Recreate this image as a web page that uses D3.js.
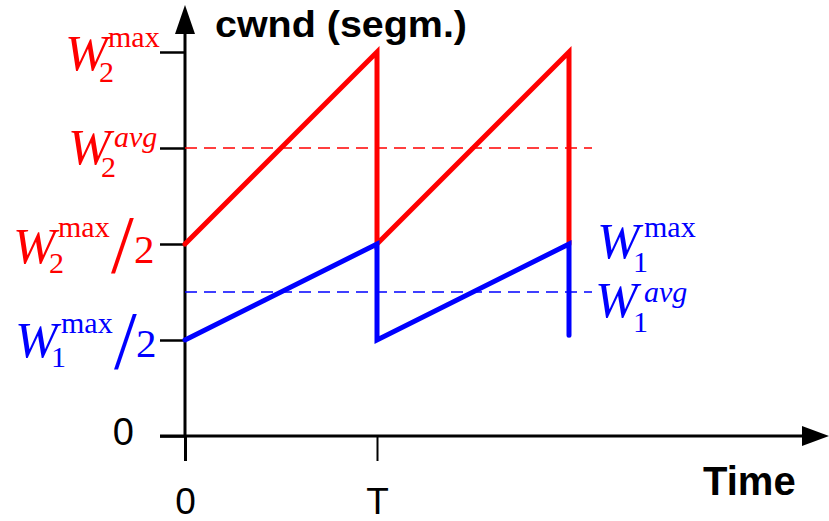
<!DOCTYPE html>
<html>
<head>
<meta charset="utf-8">
<script src="https://cdn.jsdelivr.net/npm/d3@7"></script>
<style>
  html, body { margin: 0; padding: 0; background: #fff; }
  svg { display: block; }
</style>
</head>
<body>
<svg id="chart" width="829" height="521"></svg>
<script>
// Sawtooth congestion window of two TCP flows over two periods T.
const times = [0, 1, 1, 2, 2];            // time in units of T
const cwndFlow2 = [2, 4, 2, 4, 2];        // W2: from W2max/2 up to W2max
const cwndFlow1 = [1, 2, 1, 2, 1.05];     // W1: from W1max/2 up to W1max
const avgFlow2 = 3;                       // W2avg
const avgFlow1 = 1.5;                     // W1avg
const avgEnd = 2.12;                      // dashed averages run a little past 2T
const yTickValues = [0, 1, 2, 3, 4];
const xTickValues = [0, 1];
const xTickLabels = ["0", "T"];

const RED = "#ff0000", BLUE = "#0000ff";
const SERIF = "'Liberation Serif', 'Times New Roman', serif";
const SANS = "'Liberation Sans', Arial, sans-serif";

const svg = d3.select("#chart");
const x = d3.scaleLinear().domain([0, 2]).range([185, 569]);
const y = d3.scaleLinear().domain([0, 4]).range([436, 52]);

// axes: ticks only, axis lines with arrowheads drawn separately
const yAxis = svg.append("g")
  .attr("transform", `translate(${x(0)},0)`)
  .call(d3.axisLeft(y).tickValues(yTickValues).tickSize(25).tickPadding(26)
    .tickFormat(d => d === 0 ? "0" : ""));
yAxis.select(".domain").remove();
yAxis.selectAll(".tick line").attr("stroke", "#000").attr("stroke-width", 2.5);
yAxis.selectAll(".tick text").attr("font-family", SANS).attr("font-size", 38)
  .attr("fill", "#000").attr("dy", "0.22em");

const xAxis = svg.append("g")
  .attr("transform", `translate(0,${y(0)})`)
  .call(d3.axisBottom(x).tickValues(xTickValues).tickSize(25).tickPadding(27)
    .tickFormat((d, i) => xTickLabels[i]));
xAxis.select(".domain").remove();
xAxis.selectAll(".tick line").attr("stroke", "#000").attr("stroke-width", (d) => d === 0 ? 3 : 2);
xAxis.selectAll(".tick text").attr("font-family", SANS).attr("font-size", 37)
  .attr("fill", "#000");

// axis lines
svg.append("line").attr("x1", x(0)).attr("y1", y(0)).attr("x2", x(0)).attr("y2", 30)
  .attr("stroke", "#000").attr("stroke-width", 3);
svg.append("line").attr("x1", 160).attr("y1", y(0)).attr("x2", 806).attr("y2", y(0))
  .attr("stroke", "#000").attr("stroke-width", 3);
svg.append("path")
  .attr("d", `M${x(0)},5 L${x(0) - 10},34 L${x(0) + 10},34 Z`).attr("fill", "#000");
svg.append("path")
  .attr("d", `M829,${y(0)} L802,${y(0) - 10} L802,${y(0) + 10} Z`).attr("fill", "#000");

// dashed averages
[[avgFlow2, RED], [avgFlow1, BLUE]].forEach(([v, c]) => {
  svg.append("line")
    .attr("x1", x(0)).attr("x2", x(avgEnd)).attr("y1", y(v)).attr("y2", y(v))
    .attr("stroke", c).attr("stroke-width", 1.6).attr("stroke-dasharray", "12,7");
});

// cwnd curves
const line = d3.line().x(d => x(d[0])).y(d => y(d[1]));
[[cwndFlow2, RED], [cwndFlow1, BLUE]].forEach(([vals, c]) => {
  svg.append("path")
    .attr("d", line(times.map((t, i) => [t, vals[i]])))
    .attr("fill", "none").attr("stroke", c).attr("stroke-width", 5)
    .attr("stroke-linejoin", "miter").attr("stroke-miterlimit", 10)
    .attr("stroke-linecap", "round");
});

// axis titles
svg.append("text").attr("x", 215).attr("y", 37)
  .attr("font-family", SANS).attr("font-weight", "bold").attr("font-size", 36)
  .attr("textLength", 252).attr("lengthAdjust", "spacingAndGlyphs")
  .text("cwnd (segm.)");
svg.append("text").attr("x", 703).attr("y", 495)
  .attr("font-family", SANS).attr("font-weight", "bold").attr("font-size", 40)
  .text("Time");

// W labels: italic W with subscript index and superscript (max / avg)
function wLabel(o) {
  const g = svg.append("g").attr("fill", o.color).attr("font-family", SERIF);
  g.append("text").attr("x", o.x).attr("y", o.base)
    .attr("font-size", 51).attr("font-style", "italic").text("W");
  g.append("text").attr("x", o.x + o.subDx).attr("y", o.base + o.subDy)
    .attr("font-size", 30).text(o.sub);
  g.append("text").attr("x", o.x + o.supDx).attr("y", o.base + o.supDy)
    .attr("font-size", 30).attr("font-style", o.sup === "avg" ? "italic" : "normal")
    .text(o.sup);
  if (o.half) {
    g.append("text").attr("x", o.half.slashX).attr("y", o.half.slashBase)
      .attr("font-size", 82).text("/");
    g.append("text").attr("x", o.half.twoX).attr("y", o.base)
      .attr("font-size", 41).text("2");
  }
}

wLabel({ color: RED, x: 65, base: y(4) + 18, sub: "2", subDx: 34, subDy: 12,
  sup: "max", supDx: 43, supDy: -23 });
wLabel({ color: RED, x: 68, base: y(avgFlow2) + 16, sub: "2", subDx: 33, subDy: 13,
  sup: "avg", supDx: 46, supDy: -17 });
wLabel({ color: RED, x: 13, base: y(2) + 19, sub: "2", subDx: 36, subDy: 10,
  sup: "max", supDx: 45, supDy: -26, half: { slashX: 111, slashBase: y(2) + 28, twoX: 134 } });
wLabel({ color: BLUE, x: 15, base: y(1) + 17, sub: "1", subDx: 36, subDy: 10,
  sup: "max", supDx: 46, supDy: -24, half: { slashX: 114, slashBase: y(1) + 28, twoX: 136 } });
wLabel({ color: BLUE, x: 597, base: y(2) + 14, sub: "1", subDx: 36, subDy: 14,
  sup: "max", supDx: 47, supDy: -21 });
wLabel({ color: BLUE, x: 595, base: y(avgFlow1) + 25, sub: "1", subDx: 38, subDy: 15,
  sup: "avg", supDx: 49, supDy: -15 });
</script>
</body>
</html>
